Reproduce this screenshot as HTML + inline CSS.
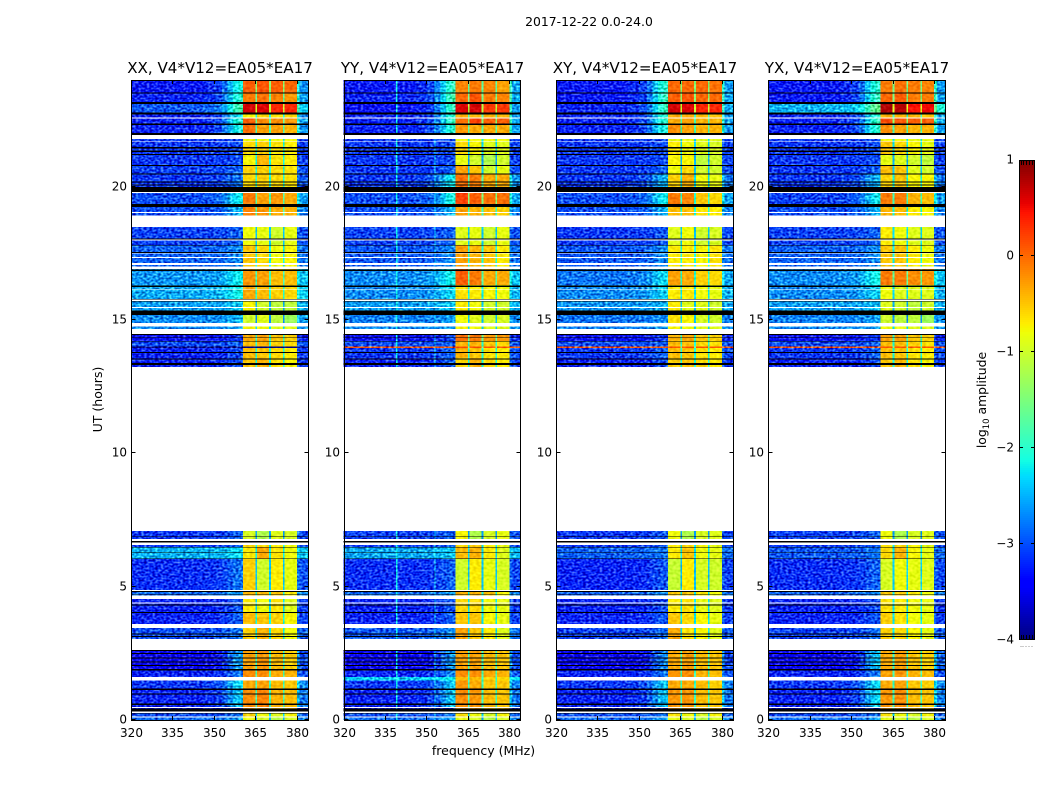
<!DOCTYPE html>
<html>
<head>
<meta charset="utf-8">
<title>2017-12-22 0.0-24.0</title>
<style>
html,body{margin:0;padding:0;background:#fff;}
#chart{display:block;width:1050px;height:800px;}
text{font-family:"DejaVu Sans","Liberation Sans",sans-serif;fill:#000;}
</style>
</head>
<body>
<svg id="chart" xmlns="http://www.w3.org/2000/svg" width="1050" height="800" viewBox="0 0 1050 800">
<defs>
<filter id="bg-grain" x="0" y="0" width="1" height="1" color-interpolation-filters="sRGB">
<feTurbulence type="fractalNoise" baseFrequency="0.36 0.5" numOctaves="1" seed="7" result="t"/>
<feColorMatrix in="t" type="matrix" values="0 0 0 1 0  0 0 0 1 0  0 0 0 1 0  0 0 0 0 1" result="n"/>
<feComposite in="SourceGraphic" in2="n" operator="arithmetic" k1="0" k2="1" k3="1.3" k4="-0.65" result="m"/>
<feComposite in="m" in2="SourceAlpha" operator="in"/>
</filter>
<filter id="band-grain" x="0" y="0" width="1" height="1" color-interpolation-filters="sRGB">
<feTurbulence type="fractalNoise" baseFrequency="0.3 0.4" numOctaves="1" seed="3" result="t"/>
<feColorMatrix in="t" type="matrix" values="0 0 0 1 0  0 0 0 1 0  0 0 0 1 0  0 0 0 0 1" result="n"/>
<feComposite in="SourceGraphic" in2="n" operator="arithmetic" k1="0" k2="1" k3="0.35" k4="-0.175" result="m"/>
<feComposite in="m" in2="SourceAlpha" operator="in"/>
</filter>
</defs>
<rect x="0" y="0" width="1050" height="800" fill="#fff"/>
<text x="589" y="26" font-size="12.4" text-anchor="middle">2017-12-22 0.0-24.0</text>
<text x="483.5" y="755" font-size="12.5" text-anchor="middle">frequency (MHz)</text>
<text transform="translate(102,399.5) rotate(-90)" font-size="12.5" text-anchor="middle">UT (hours)</text>
<text transform="translate(986,400) rotate(-90)" font-size="12.4" text-anchor="middle">log<tspan font-size="8.5" dy="3">10</tspan><tspan dy="-3"> amplitude</tspan></text>
<g id="panels"></g>
<g id="colorbar"></g>
</svg>
<script>
// ---- categories and ticks ----
const panelLabels = ["XX", "YY", "XY", "YX"];
const baselineLabel = "V4*V12=EA05*EA17";
const freqTicks = [320, 335, 350, 365, 380];
const utTicks = [0, 5, 10, 15, 20];
const colorTicks = [1, 0, -1, -2, -3, -4];
const colorMinorFractions = [0.11, 0.28, 0.45, 0.62, 0.79];

// ---- time spans of the heatmap rows [UT start, UT end] ----
const rowSpans = [
[23.5,24],[23.14,23.5],[22.74,23.14],[22.56,22.74],[22.32,22.56],[21.98,22.32],[21.7,21.98],
[21.18,21.7],[20.78,21.18],[20.48,20.78],[19.8,20.48],[19.29,19.8],[18.91,19.29],[17.79,18.49],
[17.0,17.79],[16.31,17.0],[15.75,16.31],[15.3,15.75],[14.89,15.3],[14.48,14.89],[14.21,14.48],
[14.01,14.21],[13.95,14.01],[13.58,13.95],[13.24,13.58],[6.56,7.09],[6.46,6.56],[6.06,6.46],
[4.88,6.06],[4.54,4.88],[4.01,4.54],[3.6,4.01],[3.04,3.45],[1.88,2.63],[1.62,1.88],[1.49,1.62],
[1.2,1.49],[0.49,1.2],[0.25,0.49],[0.14,0.25],[0,0.14]
];

// ---- log10 amplitude per row: [background, ramp, band1, band2, band3, band4] ----
const xxLevels = [
[-3.25,-2.1,.05,.1,.05,0],[-3.2,-2,-.1,-.05,-.15,-.25],[-2.95,-1.8,.65,.6,.35,.35],[-3.2,-2.2,-.75,-.6,-.65,-.6],
[-3.2,-2,.05,-.2,-.2,-.25],[-3.2,-2.1,-.05,-.3,-.3,-.4],[-3.1,-3,-.8,-.8,-.8,-.8],[-3.1,-3,-.6,-.55,-.65,-.7],
[-3.1,-3,-.75,-.4,-.65,-.7],[-3.05,-2.9,-.55,-.55,-.6,-.65],[-3.1,-2.8,-.6,-.55,-.6,-.65],[-3.0,-2.2,-.1,-.3,-.25,-.35],
[-3.0,-2.5,-.15,-.25,-.35,-.4],[-3.05,-2.9,-.8,-.85,-1,-.85],[-2.9,-2.7,-.5,-.6,-.8,-.75],[-2.65,-2.2,-.25,-.3,-.45,-.45],
[-2.55,-2.15,-.35,-.45,-.55,-.6],[-2.6,-2.4,-.75,-1,-1.1,-1.1],[-2.7,-2.5,-1,-.9,-1.1,-1.3],[-2.7,-2.6,-.75,-.8,-.9,-.9],
[-3.3,-3.1,-.35,-.3,-.5,-.55],[-3.0,-2.9,-.45,-.4,-.55,-.6],[-4,-4,-4,-4,-4,-4],[-3.2,-3,-.45,-.5,-.6,-.7],
[-3.2,-3,-.5,-.4,-.65,-.75],[-3.1,-2.9,-.95,-1.2,-.9,-.95],[-3.1,-2.9,-.6,-.6,-.7,-.8],[-2.5,-2.3,-.7,-.35,-.65,-.8],
[-3.15,-2.8,-.55,-1,-.7,-.85],[-2.85,-2.6,-.4,-.45,-.5,-.7],[-3.2,-2.95,-.7,-.8,-.65,-.9],[-3.2,-2.9,-.45,-.5,-.55,-.75],
[-3.0,-2.8,-.55,-.4,-.6,-.8],[-3.4,-2.6,-.3,-.25,-.45,-.55],[-3.2,-2.8,-.2,-.2,-.35,-.4],null,
[-3.1,-2.3,-.35,-.3,-.45,-.5],[-3.2,-2.4,-.2,-.15,-.4,-.45],[-3.3,-3.1,-.3,-.3,-.5,-.5],[-3,-2.8,-.6,-.8,-.9,-.75],[-2.85,-2.6,-.85,-.95,-1.15,-.95]
];
const yyLevels = [
[-3.25,-1.9,-.15,-.1,-.15,-.3],[-3.2,-1.8,0,.1,-.1,-.15],[-3.3,-1.9,.6,.65,.25,.25],[-3.2,-2,-.35,-.4,-.4,-.4],
[-3.2,-1.9,-.05,.2,.05,.05],[-3.2,-2,-.25,-.35,-.35,-.35],[-3.1,-3,-.8,-.8,-.8,-.8],[-3.1,-3,-.6,-.75,-.9,-.9],
[-3.1,-3,-.85,-1,-1.2,-1],[-3.1,-2.9,-.3,-.5,-1,-.85],[-3.1,-2.2,-.05,-.1,-.35,-.35],[-3.0,-2.1,.2,.05,-.05,-.05],
[-3.0,-2.5,-.3,-.4,-.45,-.55],[-3.05,-2.9,-.9,-.85,-1,-.85],[-2.95,-2.7,-.3,-.4,-.5,-.7],[-2.7,-2.15,.05,-.1,-.35,-.35],
[-2.7,-2.3,-.65,-.7,-.75,-.8],[-2.6,-2.4,-.7,-.8,-1,-1],[-2.75,-2.6,-.8,-.9,-1,-.95],[-2.7,-2.6,-.75,-.8,-.9,-.9],
[-3.3,-3,-.05,-.1,-.25,-.25],[-3.0,-2.9,-.4,-.4,-.5,-.6],[.1,.1,.1,.1,.1,.1],[-3.1,-2.9,-.4,-.5,-.65,-.7],
[-3.2,-2.9,-.6,-.4,-.6,-.7],[-3.05,-2.9,-.75,-1.2,-.95,-.85],[-3.1,-2.9,-.6,-.5,-.7,-.85],[-2.55,-2.4,-.45,-.4,-.7,-.9],
[-3.15,-2.9,-1,-.7,-.85,-.95],[-2.85,-2.6,-.4,-.4,-.5,-.75],[-3.2,-2.95,-.6,-.6,-.8,-.85],[-3.2,-2.9,-.5,-.5,-.75,-.85],
[-2.95,-2.7,-.3,-.5,-.7,-.9],[-3.4,-2.6,-.3,-.3,-.45,-.5],[-3.2,-2.7,-.2,-.2,-.35,-.4],[-2.35,-2.2,-.45,-.45,-.55,-.6],
[-3.1,-2.4,-.25,-.35,-.5,-.5],[-3.2,-2.4,-.2,-.25,-.45,-.5],[-3.3,-3.1,-.3,-.3,-.5,-.5],[-3,-2.8,-.65,-.8,-.95,-.75],[-2.85,-2.6,-.85,-.95,-1.15,-.95]
];
const xyLevels = [
[-3.25,-2,0,0,0,-.05],[-3.25,-1.9,.05,.1,0,0],[-3.2,-1.9,.65,.6,.35,.35],[-3.2,-2,-.35,-.35,-.45,-.45],
[-3.2,-2,-.35,-.3,-.4,-.4],[-3.2,-2.1,-.2,-.3,-.4,-.4],[-3.1,-3,-.85,-.85,-.9,-.9],[-3.1,-3,-.7,-.8,-.9,-.95],
[-3.1,-3,-.75,-.75,-1.1,-1],[-3.1,-2.9,-.8,-.6,-1,-1],[-3.1,-2.5,-.55,-.4,-.8,-.85],[-3.0,-2.2,-.1,-.15,-.5,-.6],
[-3.0,-2.5,-.45,-.45,-.65,-.7],[-3.1,-2.95,-.9,-.8,-1,-.95],[-2.95,-2.7,-.7,-.7,-.75,-.65],[-2.8,-2.3,-.3,-.35,-.55,-.6],
[-2.7,-2.35,-.7,-.7,-.8,-.85],[-2.65,-2.5,-.7,-.9,-.9,-1],[-2.8,-2.7,-.65,-.75,-.95,-1],[-2.75,-2.6,-.75,-.8,-.9,-.9],
[-3.3,-3.1,-.4,-.35,-.5,-.55],[-3.0,-2.9,-.45,-.45,-.6,-.65],[.1,.1,.1,.1,.1,.1],[-3.1,-2.9,-.45,-.5,-.65,-.7],
[-3.2,-3,-.55,-.5,-.6,-.7],[-3.1,-2.95,-.8,-1.2,-.95,-.9],[-3.1,-2.95,-.7,-.6,-.75,-.85],[-2.9,-2.8,-.7,-.5,-.8,-.85],
[-3.2,-2.95,-1.05,-.7,-.95,-1],[-2.9,-2.7,-.5,-.5,-.7,-.8],[-3.2,-3,-.7,-.65,-.85,-.9],[-3.2,-2.95,-.5,-.6,-.75,-.85],
[-3.05,-2.85,-.35,-.65,-.75,-.9],[-3.4,-2.7,-.35,-.3,-.45,-.5],[-3.2,-2.8,-.25,-.2,-.4,-.45],null,
[-3.1,-2.4,-.35,-.35,-.45,-.55],[-3.2,-2.4,-.25,-.25,-.45,-.5],[-3.3,-3.1,-.3,-.3,-.5,-.5],[-3,-2.8,-.65,-.8,-.95,-.75],[-2.85,-2.6,-.85,-.95,-1.15,-.95]
];
const yxLevels = [
[-3.25,-2,-.1,-.05,-.1,-.15],[-3.25,-1.9,0,.05,-.1,-.1],[-2.5,-1.6,.8,.75,.45,.5],[-3.2,-2,-.4,-.4,-.4,-.5],
[-3.2,-1.9,.15,.1,.05,.05],[-3.2,-2,-.2,-.3,-.4,-.4],[-3.1,-3,-.8,-.8,-.85,-.85],[-3.1,-3,-.5,-.6,-.75,-.85],
[-3.1,-3,-.85,-.9,-1,-1.1],[-3.1,-2.9,-.45,-.5,-.9,-1],[-3.1,-2.5,-.55,-.5,-.75,-.75],[-3.05,-2.2,-.1,-.1,-.4,-.45],
[-3.0,-2.5,-.4,-.45,-.7,-.75],[-3.05,-2.9,-.7,-.8,-.9,-.9],[-2.9,-2.7,-.5,-.5,-.7,-.8],[-2.7,-2.15,-.1,-.1,-.2,-.25],
[-2.7,-2.35,-.8,-.9,-.9,-.9],[-2.6,-2.45,-.9,-1,-1.1,-1],[-2.75,-2.6,-1,-1.1,-1.1,-1.3],[-2.7,-2.6,-.8,-.85,-.9,-.9],
[-3.3,-3.1,-.3,-.3,-.5,-.55],[-3.0,-2.9,-.45,-.45,-.55,-.65],[.1,.1,.1,.1,.1,.1],[-3.1,-2.9,-.45,-.5,-.65,-.7],
[-3.2,-3,-.5,-.45,-.65,-.75],[-3.05,-2.9,-.8,-1.2,-.95,-.9],[-3.1,-2.95,-.65,-.6,-.75,-.85],[-2.95,-2.8,-.6,-.4,-.75,-.85],
[-3.15,-2.9,-.95,-.8,-.85,-.9],[-2.9,-2.7,-.5,-.5,-.7,-.8],[-3.2,-3,-.65,-.7,-.8,-.85],[-3.2,-2.95,-.55,-.65,-.8,-.85],
[-3.05,-2.85,-.55,-.6,-.75,-.85],[-3.4,-2.4,-.35,-.3,-.5,-.55],[-3.2,-2.8,-.3,-.25,-.4,-.45],null,
[-3.1,-2.3,-.35,-.3,-.5,-.55],[-3.2,-2.3,-.25,-.2,-.45,-.5],[-3.3,-3.1,-.3,-.3,-.5,-.5],[-3,-2.8,-.65,-.8,-.95,-.75],[-2.85,-2.6,-.85,-.95,-1.15,-.95]
];

// ---- flagged (black) and missing (white) spans, UT hours ----
const flaggedSpans = [
[23.49,23.53],[23.10,23.18],[22.70,22.79],[22.32,22.36],[21.93,22.01],[21.44,21.48],[21.30,21.35],[21.18,21.23],
[20.78,20.82],[20.45,20.50],[20.15,20.20],[20.04,20.09],[19.8,19.99],[19.23,19.35],[18.01,18.05],[17.79,17.82],
[17.52,17.55],[16.83,16.89],[16.24,16.30],[15.76,15.79],[15.69,15.71],[15.19,15.36],[14.44,14.48],[14.33,14.35],
[14.19,14.21],[13.76,13.80],[13.51,13.55],[13.32,13.39],[6.86,6.89],[6.66,6.71],[6.46,6.49],[6.26,6.29],[6.03,6.06],
[4.80,4.84],[4.70,4.73],[4.30,4.34],[4.01,4.05],[3.21,3.25],[3.12,3.15],[2.58,2.63],[2.48,2.51],[2.31,2.35],
[2.15,2.19],[2.03,2.06],[1.86,1.91],[1.13,1.19],[0.96,1.00],[0.56,0.61],[0.31,0.44],[0.25,0.27]
];
const missingSpans = [
[22.55,22.59],[21.78,21.93],[21.70,21.72],[19.76,19.8],[19.01,19.05],[17.99,18.01],[17.49,17.52],[17.33,17.36],
[17.07,17.13],[16.91,17.01],[16.14,16.17],[15.71,15.76],[15.45,15.49],[14.76,14.89],[14.48,14.67],[6.71,6.79],
[6.56,6.66],[4.84,4.88],[4.54,4.66],[4.36,4.40],[0.45,0.49],[0.27,0.31],[0.10,0.14]
];

// ---- spectral layout ----
const rampEdges = [320, 346, 350, 353, 355, 357, 359, 360.5];
const rampWeights = [0, 0.06, 0.15, 0.35, 0.65, 0.9, 1];
const bandEdges = [360.5, 365, 365.6, 370, 370.6, 375, 375.6, 380];
const edgeChannels = [380, 381, 384];
const rfiChannels = [[339, 339.5, -2.2], [352.9, 353.2, -2.4]];

// ---- axes geometry ----
const panelLefts = [131, 343.6, 556, 768.4];
const panelWidth = 176.8;
const plotTop = 80;
const plotBottom = 720;
const panelLevels = [xxLevels, yyLevels, xyLevels, yxLevels];
const SVGNS = "http://www.w3.org/2000/svg";
const FREQ_MIN = 320, FREQ_MAX = 384, UT_MIN = 0, UT_MAX = 24, AMP_MIN = -4, AMP_MAX = 1;

function xScale(freq, left) { return left + (freq - FREQ_MIN) / (FREQ_MAX - FREQ_MIN) * panelWidth; }
function yScale(ut) { return plotBottom - (ut - UT_MIN) / (UT_MAX - UT_MIN) * (plotBottom - plotTop); }
function lerpStops(t, stops) {
  for (let i = 1; i < stops.length; i++) {
    if (t <= stops[i][0]) {
      const a = stops[i - 1], b = stops[i];
      return a[1] + (b[1] - a[1]) * (t - a[0]) / (b[0] - a[0]);
    }
  }
  return stops[stops.length - 1][1];
}
function jet(value) {
  const t = Math.max(0, Math.min(1, (value - AMP_MIN) / (AMP_MAX - AMP_MIN)));
  const r = lerpStops(t, [[0,0],[.35,0],[.66,1],[.89,1],[1,.5]]);
  const g = lerpStops(t, [[0,0],[.125,0],[.375,1],[.64,1],[.91,0],[1,0]]);
  const b = lerpStops(t, [[0,.5],[.11,1],[.34,1],[.65,0],[1,0]]);
  return "rgb(" + Math.round(r * 255) + "," + Math.round(g * 255) + "," + Math.round(b * 255) + ")";
}
function addRect(parent, x, y, w, h, fill) {
  const el = document.createElementNS(SVGNS, "rect");
  el.setAttribute("x", x.toFixed(2));
  el.setAttribute("y", y.toFixed(2));
  el.setAttribute("width", w.toFixed(2));
  el.setAttribute("height", h.toFixed(2));
  el.setAttribute("fill", fill);
  el.setAttribute("shape-rendering", "crispEdges");
  parent.appendChild(el);
  return el;
}
function addLine(parent, x1, y1, x2, y2, color) {
  const el = document.createElementNS(SVGNS, "line");
  el.setAttribute("x1", x1);
  el.setAttribute("y1", y1);
  el.setAttribute("x2", x2);
  el.setAttribute("y2", y2);
  el.setAttribute("stroke", color);
  el.setAttribute("stroke-width", "1");
  el.setAttribute("shape-rendering", "crispEdges");
  parent.appendChild(el);
  return el;
}
function addText(parent, x, y, str, size, anchor) {
  const el = document.createElementNS(SVGNS, "text");
  el.setAttribute("x", x);
  el.setAttribute("y", y);
  el.setAttribute("font-size", size);
  el.setAttribute("text-anchor", anchor);
  el.textContent = str;
  parent.appendChild(el);
  return el;
}
function addHeatCell(group, left, f0, f1, span, value) {
  const x0 = xScale(f0, left), x1 = xScale(f1, left);
  const yTop = yScale(span[1]), yBot = yScale(span[0]);
  const cell = addRect(group, x0, yTop, x1 - x0, yBot - yTop, jet(value));
  
  
}
function drawRow(bgGroup, bandGroup, left, span, lv, rfi) {
  const lo = lv[0], ramp = lv[1];
  for (let i = 0; i < rampWeights.length; i++) {
    addHeatCell(bgGroup, left, rampEdges[i], rampEdges[i + 1], span, lo + (ramp - lo) * rampWeights[i]);
  }
  if (rfi) {
    for (const c of rfiChannels) addHeatCell(bgGroup, left, c[0], c[1], span, Math.max(lo, c[2]));
  }
  const gap = Math.min(lv[2], lv[3], lv[4], lv[5]) - 1.4;
  for (let b = 0; b < 4; b++) {
    addHeatCell(bandGroup, left, bandEdges[b * 2], bandEdges[b * 2 + 1], span, lv[2 + b]);
    if (b < 3) addHeatCell(bandGroup, left, bandEdges[b * 2 + 1], bandEdges[b * 2 + 2], span, gap);
  }
  addHeatCell(bgGroup, left, edgeChannels[0], edgeChannels[1], span, ramp);
  addHeatCell(bgGroup, left, edgeChannels[1], edgeChannels[2], span, (lo + ramp) / 2);
}
function drawMaskSpans(group, left, spans, color, name) {
  for (const s of spans) {
    const yTop = yScale(s[1]), yBot = yScale(s[0]);
    const m = addRect(group, left, yTop, panelWidth, yBot - yTop, color);
    
    
  }
}
function drawPanel(idx) {
  const left = panelLefts[idx];
  const root = document.getElementById("panels");
  const g = document.createElementNS(SVGNS, "g");
  
  
  root.appendChild(g);
  const bgGroup = document.createElementNS(SVGNS, "g");
  
  
  bgGroup.setAttribute("filter", "url(#bg-grain)");
  g.appendChild(bgGroup);
  const bandGroup = document.createElementNS(SVGNS, "g");
  
  
  bandGroup.setAttribute("filter", "url(#band-grain)");
  g.appendChild(bandGroup);
  const levels = panelLevels[idx];
  rowSpans.forEach(function (span, r) {
    if (levels[r]) drawRow(bgGroup, bandGroup, left, span, levels[r], idx === 1);
  });
  drawMaskSpans(g, left, missingSpans, "#ffffff", "missing-time-band");
  drawMaskSpans(g, left, flaggedSpans, "#000000", "flagged-time-band");
  const x0 = Math.round(left) + 0.5, x1 = Math.round(left + panelWidth) + 0.5;
  for (const t of utTicks) {
    const y = Math.round(yScale(t)) - 0.5;
    const a = addLine(g, x0, y, x0 + 4, y, "#000");
    
    
    const b = addLine(g, x1 - 4, y, x1, y, "#000");
    
    
    const lab = addText(g, Math.round(left) - 4, y + 4, String(t), 12, "end");
    
    
  }
  for (const f of freqTicks) {
    const x = Math.round(xScale(f, left)) + 0.5;
    const a = addLine(g, x, plotBottom, x, plotBottom - 4, "#000");
    
    
    const b = addLine(g, x, plotTop, x, plotTop + 4, "#000");
    
    
    const lab = addText(g, x, plotBottom + 17, String(f), 12, "middle");
    
    
  }
  const frame = document.createElementNS(SVGNS, "rect");
  frame.setAttribute("x", x0);
  frame.setAttribute("y", plotTop + 0.5);
  frame.setAttribute("width", x1 - x0);
  frame.setAttribute("height", plotBottom - plotTop);
  frame.setAttribute("fill", "none");
  frame.setAttribute("stroke", "#000");
  frame.setAttribute("shape-rendering", "crispEdges");
  
  
  g.appendChild(frame);
  const title = addText(g, (x0 + x1) / 2, 73, panelLabels[idx] + ", " + baselineLabel, 15.1, "middle");
  
  
}
panelLabels.forEach(function (_, i) { drawPanel(i); });

// ---- colorbar ----
const cbLeft = 1019, cbWidth = 16, cbTop = 160, cbBottom = 640;
function cbScale(v) { return cbBottom - (v - AMP_MIN) / (AMP_MAX - AMP_MIN) * (cbBottom - cbTop); }
function drawColorbar() {
  const g = document.getElementById("colorbar");
  for (let p = cbTop; p < cbBottom; p += 2) {
    const v = AMP_MAX - (p + 1 - cbTop) / (cbBottom - cbTop) * (AMP_MAX - AMP_MIN);
    const c = addRect(g, cbLeft, p, cbWidth, 2, jet(v));
    
    
  }
  for (const t of colorTicks) {
    const y = Math.round(cbScale(t)) - 0.5;
    if (t < AMP_MAX && t > AMP_MIN) {
      const a = addLine(g, cbLeft, y, cbLeft + 4, y, "#000");
      
      
      const b = addLine(g, cbLeft + cbWidth - 4, y, cbLeft + cbWidth, y, "#000");
      
      
    }
    const label = (t < 0 ? "\u2212" + Math.abs(t) : String(t));
    const lab = addText(g, cbLeft - 5, y + 4, label, 12, "end");
    
    
  }
  for (const f of colorMinorFractions) {
    const x = Math.round(cbLeft + f * cbWidth) + 0.5;
    const top = addLine(g, x, cbTop, x, cbTop + 5, "#000");
    
    
    const bot = addLine(g, x, cbBottom, x, cbBottom - 5, "#000");
    
    
    const dot = addRect(g, x - 1, cbBottom + 6, 1, 1, "#999");
    
    
  }
  const frame = document.createElementNS(SVGNS, "rect");
  frame.setAttribute("x", cbLeft + 0.5);
  frame.setAttribute("y", cbTop + 0.5);
  frame.setAttribute("width", cbWidth - 1);
  frame.setAttribute("height", cbBottom - cbTop - 1);
  frame.setAttribute("fill", "none");
  frame.setAttribute("stroke", "#000");
  frame.setAttribute("shape-rendering", "crispEdges");
  
  
  g.appendChild(frame);
}
drawColorbar();
</script>
</body>
</html>
